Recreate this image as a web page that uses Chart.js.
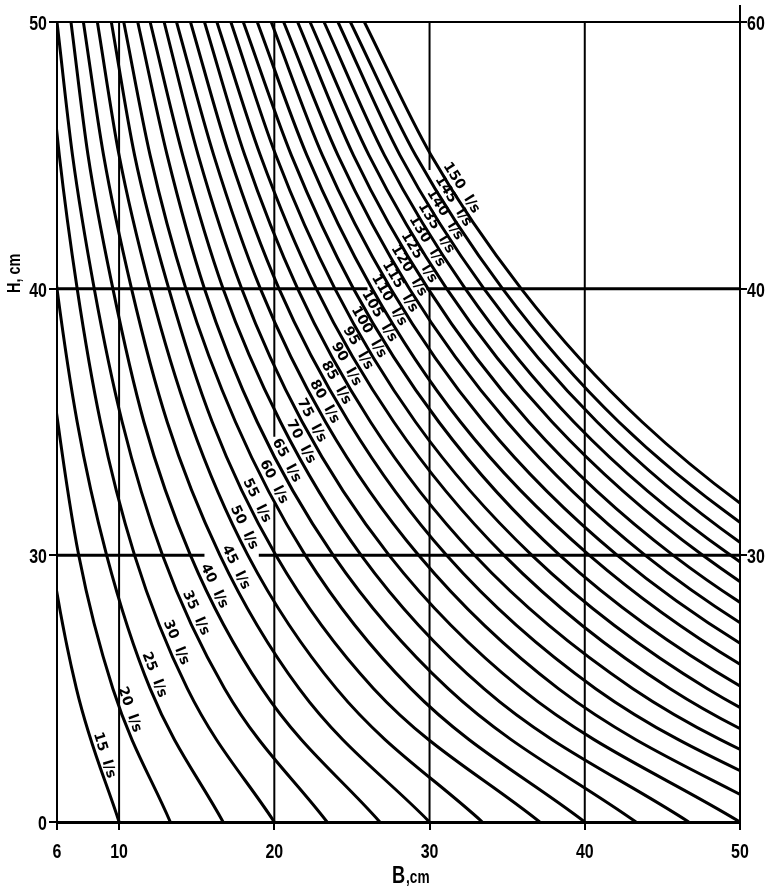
<!DOCTYPE html>
<html>
<head>
<meta charset="utf-8">
<script src="https://cdn.jsdelivr.net/npm/chart.js@4.4.0/dist/chart.umd.min.js"></script>
<style>
  html, body { margin: 0; padding: 0; background: #fff; }
  #wrap { width: 777px; height: 894px; }
</style>
</head>
<body>
<div id="wrap"><canvas id="flowChart"></canvas></div>
<script>
// discharge curves, l/s
const flows = [15, 20, 25, 30, 35, 40, 45, 50, 55, 60, 65, 70, 75, 80, 85, 90, 95, 100,
  105, 110, 115, 120, 125, 130, 135, 140, 145, 150];

// water depth H (cm) at which the width B was read
const hLevels = [20, 25, 30, 35, 40, 45, 50];

// width B (cm) of each curve at the hLevels above (one row per flow)
const widths = [
  [10.0, 7.25, 5.6, 4.5, 3.7, 3.1, 2.7],
  [13.3, 9.6, 7.4, 6.05, 5.0, 4.2, 3.6],
  [16.7, 12.0, 9.2, 7.3, 6.0, 5.0, 4.3],
  [20.0, 14.4, 11.0, 8.8, 7.3, 6.15, 5.3],
  [23.4, 16.8, 12.8, 10.2, 8.4, 7.0, 6.0],
  [26.8, 19.2, 14.6, 11.6, 9.6, 8.0, 6.9],
  [30.0, 21.6, 16.5, 13.1, 10.8, 9.0, 7.7],
  [33.4, 24.0, 18.3, 14.6, 12.0, 10.0, 8.6],
  [37.1, 26.4, 20.1, 16.0, 13.2, 11.0, 9.5],
  [40.0, 28.8, 22.0, 17.5, 14.3, 12.0, 10.3],
  [43.3, 31.2, 23.8, 18.9, 15.5, 13.1, 11.2],
  [46.7, 33.5, 25.6, 20.4, 16.7, 14.1, 12.0],
  [50.0, 35.9, 27.4, 21.8, 17.9, 15.1, 12.9],
  [53.3, 38.3, 29.3, 23.3, 19.1, 16.1, 13.7],
  [56.7, 40.7, 31.1, 24.8, 20.3, 17.1, 14.6],
  [60.0, 43.1, 32.9, 26.2, 21.5, 18.1, 15.5],
  [63.3, 45.5, 34.8, 27.7, 22.7, 19.1, 16.3],
  [66.7, 47.9, 36.6, 29.1, 23.9, 20.1, 17.2],
  [70.0, 50.3, 38.4, 30.6, 25.1, 21.1, 18.0],
  [73.3, 52.7, 40.3, 32.0, 26.3, 22.1, 18.9],
  [76.7, 55.1, 42.1, 33.5, 27.5, 23.1, 19.8],
  [80.0, 57.5, 43.9, 35.0, 28.7, 24.1, 20.6],
  [83.3, 59.9, 45.7, 36.4, 29.9, 25.1, 21.5],
  [86.7, 62.3, 47.6, 37.9, 31.1, 26.1, 22.3],
  [90.0, 64.7, 49.4, 39.3, 32.3, 27.1, 23.2],
  [93.3, 67.1, 51.2, 40.8, 33.5, 28.1, 24.1],
  [96.7, 69.5, 53.1, 42.2, 34.7, 29.1, 24.9],
  [100.0, 71.9, 54.9, 43.7, 35.9, 30.1, 25.8]
];

const xTicks = [6, 10, 20, 30, 40, 50];
const xLabels = ["6", "10", "20", "30", "40", "50"];
const yTicksLeft = [20, 30, 40, 50];
const yLabelsLeft = ["0", "30", "40", "50"];
const yTicksRight = [30, 40, 50];
const yLabelsRight = ["30", "40", "60"];

// depth along each curve where its label sits
const labelH = [22.4, 24.1, 25.4, 26.6, 27.7, 28.7, 29.4, 30.9, 31.9, 32.6, 33.4, 34.1, 34.9,
  35.6, 36.3, 37.0, 37.6, 38.2, 38.8, 39.4, 39.9, 40.5, 41.0, 41.6, 42.1, 42.6, 43.1, 43.6];

const squeeze = 0.76; // the scan uses a narrow bold face

// grid pieces, in data units, with the breaks where labels cut them
const vGrid = [
  { b: 10, spans: [[20, 50]] },
  { b: 20, spans: [[20, 31.95], [34.45, 50]] },
  { b: 30, spans: [[20, 39.95], [44.45, 50]] },
  { b: 40, spans: [[20, 50]] }
];
const hGrid = [
  { h: 30, spans: [[6, 15.5], [19.0, 50]], w: 3 },
  { h: 40, spans: [[6, 26.0], [29.8, 50]], w: 3 },
  { h: 50, spans: [[6, 50]], w: 2 }
];

function widthAt(row, h) {
  let i = 0;
  while (i < hLevels.length - 2 && h > hLevels[i + 1]) i++;
  const t = Math.log(h / hLevels[i]) / Math.log(hLevels[i + 1] / hLevels[i]);
  return Math.exp(Math.log(row[i]) + t * (Math.log(row[i + 1]) - Math.log(row[i])));
}

function narrowText(ctx, text, x, y, align, size, rot) {
  ctx.save();
  ctx.translate(x, y);
  if (rot) ctx.rotate(rot);
  ctx.scale(squeeze, 1);
  ctx.font = "bold " + size + "px 'Liberation Sans', Arial, sans-serif";
  ctx.textAlign = align;
  ctx.textBaseline = "alphabetic";
  ctx.fillText(text, 0, 0);
  ctx.restore();
}

const drawingPlugin = {
  id: "drawing",
  beforeDatasetsDraw(chart) {
    const { ctx, scales: { x, y } } = chart;
    ctx.save();
    ctx.strokeStyle = "#000";
    ctx.lineCap = "butt";
    vGrid.forEach(g => {
      ctx.lineWidth = 2;
      const px = x.getPixelForValue(g.b);
      g.spans.forEach(s => {
        ctx.beginPath();
        ctx.moveTo(px, y.getPixelForValue(s[0]));
        ctx.lineTo(px, y.getPixelForValue(s[1]));
        ctx.stroke();
      });
    });
    hGrid.forEach(g => {
      ctx.lineWidth = g.w;
      const py = y.getPixelForValue(g.h);
      g.spans.forEach(s => {
        ctx.beginPath();
        ctx.moveTo(x.getPixelForValue(s[0]), py);
        ctx.lineTo(x.getPixelForValue(s[1]), py);
        ctx.stroke();
      });
    });
    // right axis runs a bit above the frame
    const rx = x.getPixelForValue(50);
    ctx.lineWidth = 2;
    ctx.beginPath();
    ctx.moveTo(rx, 5);
    ctx.lineTo(rx, y.getPixelForValue(50));
    ctx.stroke();
    ctx.restore();
  },
  afterDatasetsDraw(chart) {
    const { ctx, scales: { x, y } } = chart;
    ctx.save();
    ctx.fillStyle = "#000";
    ctx.font = "bold 14px 'DejaVu Sans', sans-serif";
    ctx.textAlign = "center";
    ctx.textBaseline = "middle";
    flows.forEach((q, i) => {
      const h = labelH[i];
      const p1 = { x: x.getPixelForValue(widthAt(widths[i], h + 0.2)), y: y.getPixelForValue(h + 0.2) };
      const p2 = { x: x.getPixelForValue(widthAt(widths[i], h - 0.2)), y: y.getPixelForValue(h - 0.2) };
      const len = Math.hypot(p2.x - p1.x, p2.y - p1.y);
      const ux = (p2.x - p1.x) / len, uy = (p2.y - p1.y) / len;
      const cx = (p1.x + p2.x) / 2 + uy * 9;
      const cy = (p1.y + p2.y) / 2 - ux * 9;
      ctx.save();
      ctx.translate(cx, cy);
      ctx.rotate(Math.atan2(uy, ux));
      ctx.fillText(q + "  l/s", 0, 0);
      ctx.restore();
    });

    // tick labels
    const bottom = y.getPixelForValue(20);
    xTicks.forEach((v, i) => narrowText(ctx, xLabels[i], x.getPixelForValue(v), bottom + 36, "center", 21));
    yTicksLeft.forEach((v, i) => narrowText(ctx, yLabelsLeft[i], 47, y.getPixelForValue(v) + 8, "right", 21));
    yTicksRight.forEach((v, i) => narrowText(ctx, yLabelsRight[i], 747, y.getPixelForValue(v) + 8, "left", 21));

    // axis titles
    narrowText(ctx, "B", 392, 883, "left", 24);
    narrowText(ctx, ",cm", 406, 883, "left", 18);
    narrowText(ctx, "H, cm", 20, 293, "left", 19, -Math.PI / 2);
    ctx.restore();
  }
};

new Chart(document.getElementById("flowChart").getContext("2d"), {
  type: "scatter",
  data: {
    datasets: flows.map((q, i) => ({
      label: q + " l/s",
      data: hLevels.map((h, j) => ({ x: widths[i][j], y: h })),
      showLine: true,
      borderColor: "#000",
      borderWidth: 3,
      pointRadius: 0,
      cubicInterpolationMode: "monotone",
      clip: 0
    }))
  },
  options: {
    responsive: true,
    maintainAspectRatio: false,
    animation: false,
    layout: { padding: { top: 22, left: 0, right: 0, bottom: 0 } },
    elements: { line: { capBezierPoints: false } },
    plugins: { legend: { display: false }, tooltip: { enabled: false } },
    scales: {
      x: {
        type: "linear", min: 6, max: 50,
        afterBuildTicks: s => { s.ticks = xTicks.map(v => ({ value: v })); },
        afterFit: s => { s.height = 72; },
        grid: { drawOnChartArea: false, color: "#000", lineWidth: 2, tickLength: 8 },
        border: { color: "#000", width: 3 },
        ticks: { display: false }
      },
      y: {
        type: "linear", position: "left", min: 20, max: 50,
        afterBuildTicks: s => { s.ticks = yTicksLeft.map(v => ({ value: v })); },
        afterFit: s => { s.width = 57; },
        grid: { drawOnChartArea: false, color: "#000", lineWidth: 2, tickLength: 8 },
        border: { color: "#000", width: 2 },
        ticks: { display: false }
      },
      y2: {
        type: "linear", position: "right", min: 20, max: 50,
        afterBuildTicks: s => { s.ticks = yTicksRight.map(v => ({ value: v })); },
        afterFit: s => { s.width = 37; },
        grid: { drawOnChartArea: false, color: "#000", lineWidth: 2, tickLength: 7 },
        border: { color: "#000", width: 2 },
        ticks: { display: false }
      }
    }
  },
  plugins: [drawingPlugin]
});
</script>
</body>
</html>
